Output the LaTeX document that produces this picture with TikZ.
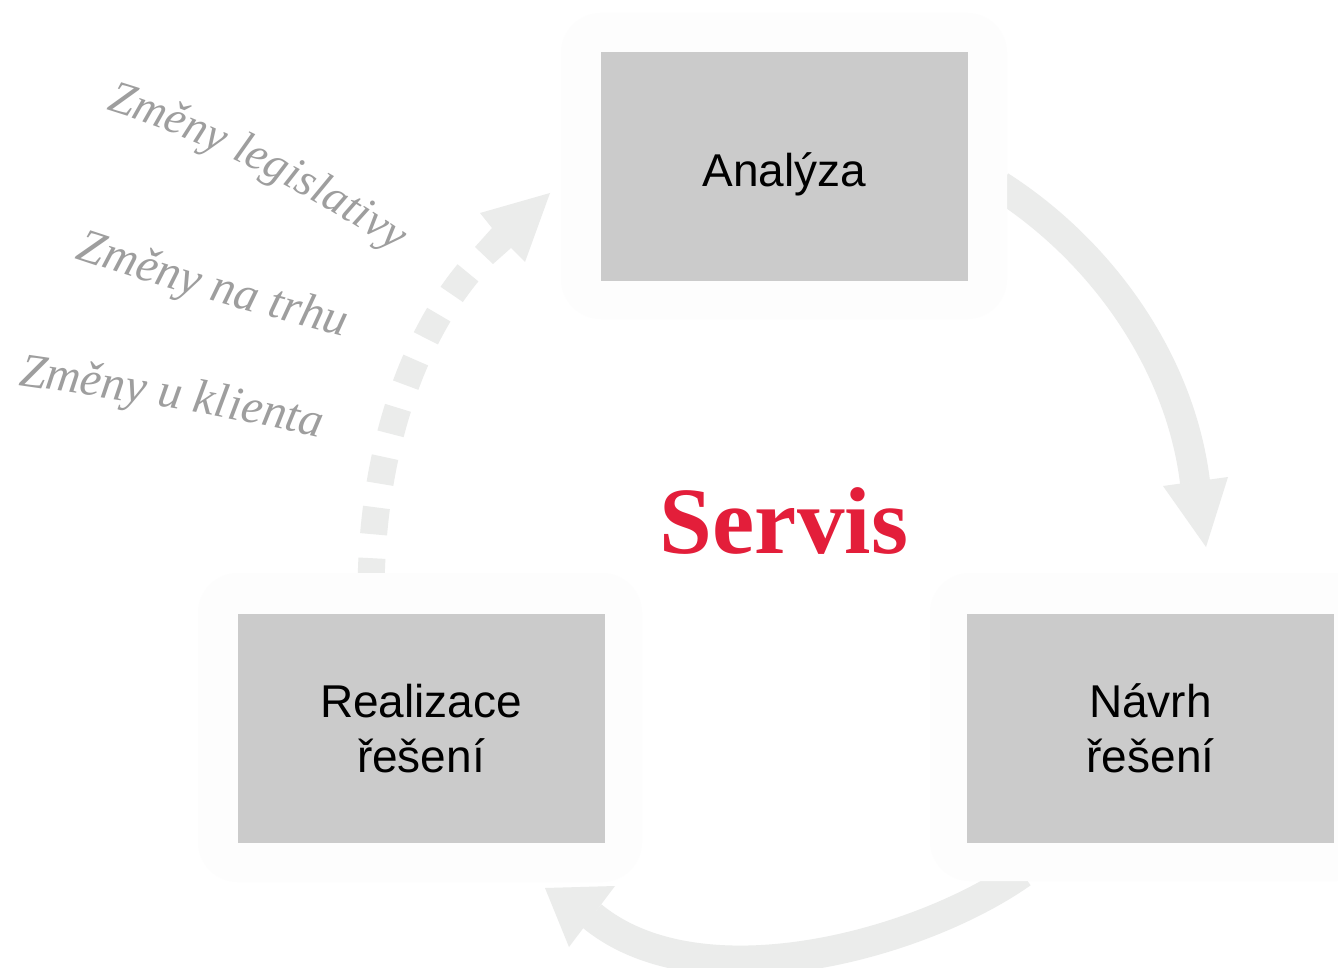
\documentclass[tikz,border=0pt]{standalone}
\usepackage{fontspec}
\setmainfont{Liberation Serif}
\newfontfamily\boxfont{Liberation Sans}
\usetikzlibrary{decorations.text}
\definecolor{arrowgray}{RGB}{235,236,235}
\definecolor{halogray}{RGB}{253,253,253}
\definecolor{boxgray}{RGB}{203,203,203}
\definecolor{txtgray}{RGB}{158,158,158}
\definecolor{servisred}{RGB}{227,30,58}
\newcommand\curvefont{\fontsize{46}{46}\selectfont\itshape\color{txtgray}}
\newcommand\curvefontb{\fontsize{48}{48}\selectfont\itshape\color{txtgray}}
\begin{document}
\begin{tikzpicture}[x=1pt,y=-1pt,
  halo/.style={fill=halogray, rounded corners=40pt},
  stagebox/.style={fill=boxgray, minimum width=367pt, minimum height=229pt, inner sep=0pt, align=center, font=\boxfont\fontsize{46}{55}\selectfont, text=black},
  band/.style={draw=arrowgray, line width=30pt},
  dotband/.style={draw=arrowgray, line width=27pt, dash pattern=on 27pt off 24pt, dash phase=27pt},
  headfill/.style={fill=arrowgray}
]
\useasboundingbox (0,0) rectangle (1338,968);
\clip (0,0) rectangle (1338,968);
\fill[white] (0,0) rectangle (1338,968);

% cycle arrows
\coordinate (tr0) at (1000,186);
\coordinate (tr1) at (1195,482);
\draw[band] (tr0) .. controls (1100,250) and (1180,360) .. (tr1);
\fill[headfill] (1163,486) -- (1206,547) -- (1228,477) -- cycle;

\coordinate (bt0) at (1022,873);
\coordinate (bt1) at (592,916);
\draw[band] (bt0) .. controls (920,945) and (700,1005) .. (bt1);
\fill[headfill] (615,886) -- (545,888) -- (569,947) -- cycle;

% dotted arrow
\coordinate (dt0) at (484,255);
\coordinate (dt1) at (371,595);
\draw[dotband] (dt0) .. controls (420,320) and (371,440) .. (dt1);
\fill[headfill] (550,193) -- (525,262) -- (511,248) -- (493,264) -- (475,247) -- (492,228) -- (480,213) -- cycle;

% halos
\fill[halo] (561,13) rectangle (1007,319);
\fill[halo] (198,573) rectangle (642,882);
\fill[halo] (930,573) rectangle (1376,881);

% boxes
\node[stagebox, text height=41pt, text depth=0pt] (a) at (784.5,166.5) {Analýza};
\node[stagebox] (r) at (421,728.5) {Realizace\\řešení};
\node[stagebox] (n) at (1150.5,728.5) {Návrh\\řešení};

% centre label
\node[text=servisred, font=\fontsize{95}{95}\selectfont\bfseries, inner sep=0pt, anchor=base] (s) at (784,553) {Servis};

% curved texts
\path[decorate, decoration={text along path, text align=left, text={|\curvefont|Změny legislativy}}]
  (106,110) .. controls (190,135) and (300,185) .. (410,262);
\path[decorate, decoration={text along path, text align=left, text={|\curvefontb|Změny na trhu}}]
  (75,258) .. controls (170,290) and (260,315) .. (370,343);
\path[decorate, decoration={text along path, text align=left, text={|\curvefontb|Změny u klienta}}]
  (18,385) .. controls (120,400) and (230,415) .. (350,445);
\end{tikzpicture}
\end{document}
